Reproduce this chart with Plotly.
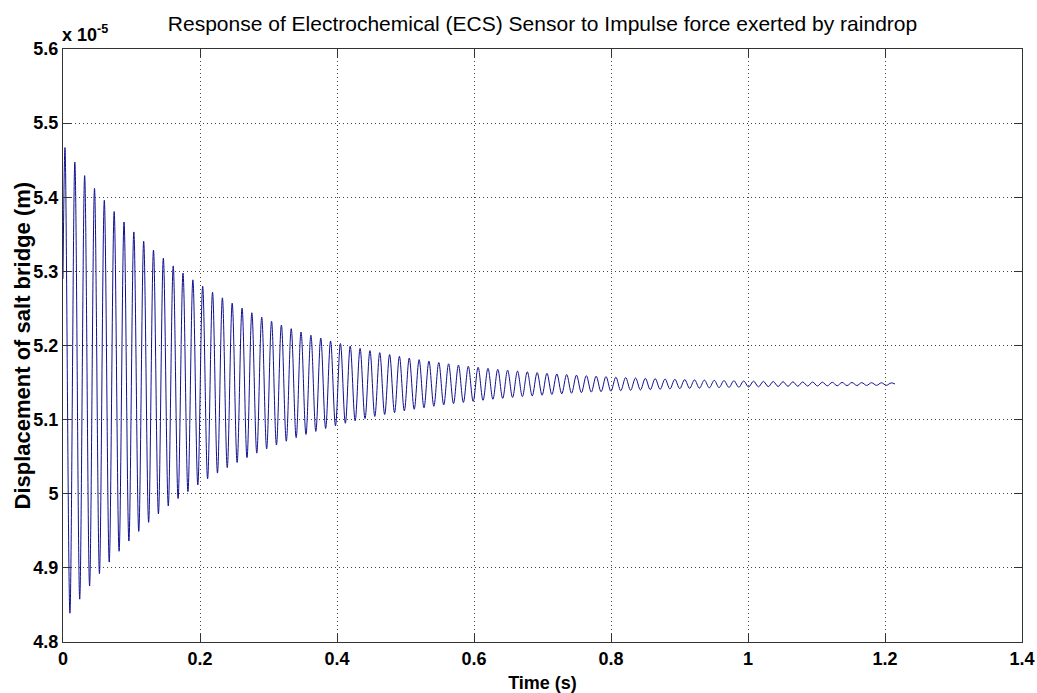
import plotly.graph_objects as go

# Time (s) of the start point and of each successive peak/trough
time_s = [
    0.0000,
    0.0029, 0.0101, 0.0173, 0.0244, 0.0316, 0.0388, 0.0460, 0.0532, 0.0603, 0.0675,
    0.0747, 0.0819, 0.0891, 0.0962, 0.1034, 0.1106, 0.1178, 0.1250, 0.1321, 0.1393,
    0.1465, 0.1537, 0.1609, 0.1680, 0.1752, 0.1824, 0.1896, 0.1968, 0.2039, 0.2111,
    0.2183, 0.2255, 0.2327, 0.2398, 0.2470, 0.2542, 0.2614, 0.2686, 0.2757, 0.2829,
    0.2901, 0.2973, 0.3045, 0.3116, 0.3188, 0.3260, 0.3332, 0.3404, 0.3475, 0.3547,
    0.3619, 0.3691, 0.3763, 0.3834, 0.3906, 0.3978, 0.4050, 0.4122, 0.4193, 0.4265,
    0.4337, 0.4409, 0.4481, 0.4552, 0.4624, 0.4696, 0.4768, 0.4840, 0.4911, 0.4983,
    0.5055, 0.5127, 0.5199, 0.5270, 0.5342, 0.5414, 0.5486, 0.5558, 0.5629, 0.5701,
    0.5773, 0.5845, 0.5917, 0.5988, 0.6060, 0.6132, 0.6204, 0.6276, 0.6347, 0.6419,
    0.6491, 0.6563, 0.6635, 0.6706, 0.6778, 0.6850, 0.6922, 0.6994, 0.7065, 0.7137,
    0.7209, 0.7281, 0.7353, 0.7424, 0.7496, 0.7568, 0.7640, 0.7712, 0.7783, 0.7855,
    0.7927, 0.7999, 0.8071, 0.8142, 0.8214, 0.8286, 0.8358, 0.8430, 0.8501, 0.8573,
    0.8645, 0.8717, 0.8789, 0.8860, 0.8932, 0.9004, 0.9076, 0.9148, 0.9219, 0.9291,
    0.9363, 0.9435, 0.9507, 0.9578, 0.9650, 0.9722, 0.9794, 0.9866, 0.9937, 1.0009,
    1.0081, 1.0153, 1.0225, 1.0296, 1.0368, 1.0440, 1.0512, 1.0584, 1.0655, 1.0727,
    1.0799, 1.0871, 1.0943, 1.1014, 1.1086, 1.1158, 1.1230, 1.1302, 1.1373, 1.1445,
    1.1517, 1.1589, 1.1661, 1.1732, 1.1804, 1.1876, 1.1948, 1.2020, 1.2091, 1.2146,
]

# Displacement of salt bridge (units of 1e-5 m) at those instants
displacement_e5 = [
    5.2900,
    5.4670, 4.8389, 5.4475, 4.8578, 5.4292, 4.8755, 5.4120, 4.8922, 5.3959, 4.9078,
    5.3808, 4.9224, 5.3666, 4.9362, 5.3532, 4.9492, 5.3406, 4.9614, 5.3288, 4.9728,
    5.3178, 4.9835, 5.3074, 4.9935, 5.2977, 5.0029, 5.2886, 5.0118, 5.2800, 5.0201,
    5.2719, 5.0279, 5.2643, 5.0353, 5.2572, 5.0422, 5.2505, 5.0487, 5.2442, 5.0548,
    5.2383, 5.0605, 5.2328, 5.0658, 5.2276, 5.0709, 5.2227, 5.0756, 5.2182, 5.0800,
    5.2139, 5.0841, 5.2099, 5.0880, 5.2061, 5.0917, 5.2026, 5.0951, 5.1992, 5.0984,
    5.1961, 5.1014, 5.1931, 5.1043, 5.1904, 5.1069, 5.1878, 5.1094, 5.1854, 5.1118,
    5.1831, 5.1140, 5.1809, 5.1161, 5.1789, 5.1180, 5.1770, 5.1199, 5.1753, 5.1216,
    5.1736, 5.1232, 5.1720, 5.1247, 5.1706, 5.1261, 5.1692, 5.1275, 5.1679, 5.1287,
    5.1667, 5.1299, 5.1655, 5.1310, 5.1645, 5.1320, 5.1635, 5.1330, 5.1625, 5.1339,
    5.1616, 5.1348, 5.1608, 5.1356, 5.1600, 5.1364, 5.1593, 5.1371, 5.1586, 5.1377,
    5.1580, 5.1384, 5.1573, 5.1390, 5.1568, 5.1395, 5.1562, 5.1400, 5.1557, 5.1405,
    5.1553, 5.1410, 5.1548, 5.1414, 5.1544, 5.1418, 5.1540, 5.1422, 5.1536, 5.1425,
    5.1533, 5.1429, 5.1530, 5.1432, 5.1527, 5.1435, 5.1524, 5.1437, 5.1521, 5.1440,
    5.1519, 5.1442, 5.1516, 5.1445, 5.1514, 5.1447, 5.1512, 5.1449, 5.1510, 5.1451,
    5.1508, 5.1453, 5.1507, 5.1454, 5.1505, 5.1456, 5.1503, 5.1457, 5.1502, 5.1459,
    5.1501, 5.1460, 5.1499, 5.1461, 5.1498, 5.1462, 5.1497, 5.1463, 5.1496, 5.1480,
]

x_tick_vals = [0, 0.2, 0.4, 0.6, 0.8, 1.0, 1.2, 1.4]
x_tick_text = ["0", "0.2", "0.4", "0.6", "0.8", "1", "1.2", "1.4"]
y_tick_vals = [4.8, 4.9, 5.0, 5.1, 5.2, 5.3, 5.4, 5.5, 5.6]
y_tick_text = ["4.8", "4.9", "5", "5.1", "5.2", "5.3", "5.4", "5.5", "5.6"]

FONT = "Liberation Sans, Arial, Helvetica, sans-serif"

fig = go.Figure()
fig.add_trace(go.Scatter(
    x=time_s, y=displacement_e5, mode="lines",
    line=dict(color="#10108f", width=1, shape="spline", smoothing=1.0),
    showlegend=False, hoverinfo="x+y",
))

axis_common = dict(
    showline=True, linecolor="#333333", linewidth=1, mirror="ticks",
    ticks="inside", ticklen=8, tickcolor="#333333", tickwidth=1,
    showgrid=True, gridcolor="#444444", gridwidth=1, griddash="1px,3px",
    zeroline=False, automargin=False,
    tickfont=dict(family=FONT, size=18, color="black", weight="bold"),
)

fig.update_xaxes(
    range=[0, 1.4], tickmode="array", tickvals=x_tick_vals, ticktext=x_tick_text,
    title=dict(text="Time (s)", font=dict(family=FONT, size=18, color="black", weight="bold"), standoff=12),
    **axis_common,
)
fig.update_yaxes(
    range=[4.8, 5.6], tickmode="array", tickvals=y_tick_vals, ticktext=y_tick_text,
    **axis_common,
)

fig.update_layout(
    width=1037, height=693,
    margin=dict(l=63, r=15, t=49, b=51),
    paper_bgcolor="white", plot_bgcolor="white",
    title=dict(
        text="Response of Electrochemical (ECS) Sensor to Impulse force exerted by raindrop",
        font=dict(family=FONT, size=21, color="black"),
        x=0.5, xref="paper", xanchor="center", y=0.977, yref="container", yanchor="top",
    ),
    annotations=[
        dict(
            text="x 10<sup>-5</sup>", xref="paper", yref="paper", x=0, y=1,
            xanchor="left", yanchor="bottom", showarrow=False, yshift=2, xshift=-3,
            font=dict(family=FONT, size=18, color="black", weight="bold"),
        ),
        dict(
            text="Displacement of salt bridge (m)", xref="paper", yref="paper",
            x=0, y=0.5, xanchor="center", yanchor="middle", xshift=-41,
            textangle=-90, showarrow=False,
            font=dict(family=FONT, size=22, color="black", weight="bold"),
        ),
    ],
)

fig.write_html("out.html", post_script="document.body.style.margin='0';",
               config={"displayModeBar": False})
